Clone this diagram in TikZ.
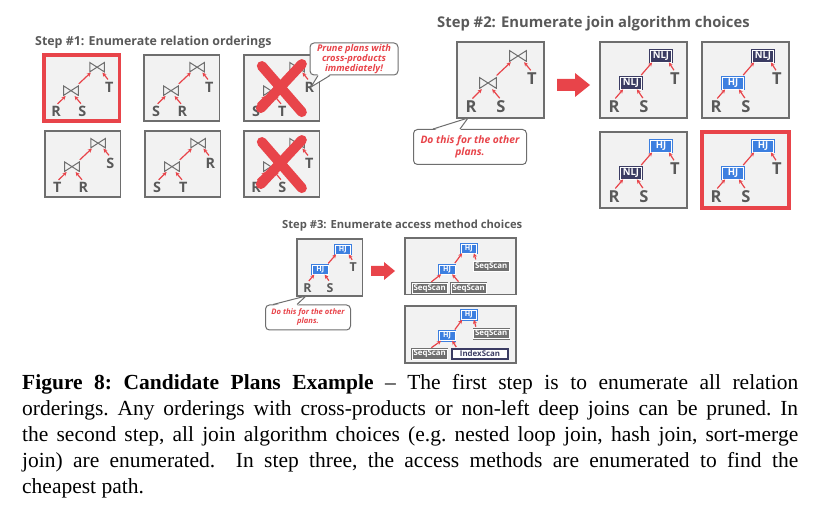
\documentclass[tikz,border=0pt]{standalone}
\usepackage{fontspec}
\setmainfont{Liberation Serif}
\newfontfamily\slidefont{Open Sans}
\usepackage{xcolor}
\usepackage{tikz}
\usetikzlibrary{arrows.meta,positioning}

\definecolor{slidered}{HTML}{E8444A}
\definecolor{slidegray}{HTML}{595959}
\definecolor{boxgray}{HTML}{F2F2F2}
\definecolor{edgegray}{HTML}{6E6E6E}
\definecolor{nljblue}{HTML}{3B3C63}
\definecolor{hjblue}{HTML}{3C7FE0}
\definecolor{scangray}{HTML}{707070}

\tikzset{
  planbox/.style={draw=edgegray, line width=1.3pt, fill=boxgray, minimum width=87pt, minimum height=76pt, inner sep=0pt},
  bestbox/.style={planbox, draw=slidered, line width=3.5pt},
  leaf/.style={font=\slidefont\bfseries\fontsize{16.5}{16.5}\selectfont, text=slidegray, inner sep=1pt},
  opbox/.style={inner sep=1pt, minimum height=12pt, minimum width=21pt, font=\slidefont\bfseries\fontsize{9.5}{9.5}\selectfont, text=white, double=white, double distance=0.5pt, line width=0.8pt},
  nlj/.style={opbox, draw=nljblue, fill=nljblue},
  hj/.style={opbox, draw=hjblue, fill=hjblue},
  bowtie/.style={minimum width=18pt, minimum height=12pt, inner sep=0pt,
    path picture={\draw[edgegray, line width=1pt]
      ([shift={(0.6pt,-0.6pt)}]path picture bounding box.north west) --
      ([shift={(-0.6pt,0.6pt)}]path picture bounding box.south east) --
      ([shift={(-0.6pt,-0.6pt)}]path picture bounding box.north east) --
      ([shift={(0.6pt,0.6pt)}]path picture bounding box.south west) -- cycle;}},
  scan/.style={inner sep=0.5pt, minimum height=13pt, minimum width=47pt, font=\slidefont\bfseries\fontsize{10.5}{10.5}\selectfont, text=white, draw=scangray, fill=scangray, double=white, double distance=0.5pt, line width=0.7pt},
  idxscan/.style={inner sep=0.5pt, minimum height=13pt, minimum width=75pt, font=\slidefont\bfseries\fontsize{10.5}{10.5}\selectfont, text=nljblue, draw=nljblue, fill=white, line width=1.4pt},
  flow/.style={draw=slidered, line width=1.2pt, shorten <=2pt, -{Stealth[length=4pt,width=4pt]}},
  prunex/.style={draw=slidered, line width=10pt, line cap=round},
  bubble/.style={draw=edgegray, line width=1pt, fill=white, rounded corners=4pt, inner sep=1pt, align=center, text=slidered, font=\slidefont\bfseries\itshape},
  steptitle/.style={anchor=west, inner sep=0pt, text=slidegray, font=\slidefont\bfseries}
}

\newcommand{\optextbowtie}{}
\newcommand{\optextnlj}{NLJ}
\newcommand{\optexthj}{HJ}
\newcommand{\plan}[9]{%
  \begin{scope}[shift={#2}, scale=#3, every node/.append style={transform shape}]
    \node[#9] (#1) at (43.5,-38) {};
    \node[#4] (#1-top) at (61,-14) {\csname optext#4\endcsname};
    \node[#5] (#1-low) at (31,-41) {\csname optext#5\endcsname};
    \node[leaf] (#1-l) at (14,-65) {#6};
    \node[leaf] (#1-r) at (44,-65) {#7};
    \node[leaf] (#1-o) at (75,-37) {#8};
    \draw[flow] ([xshift=-2pt]#1-low.north east) -- ([xshift=2pt]#1-top.south west);
    \draw[flow] (#1-l.north) -- ([xshift=3pt]#1-low.south west);
    \draw[flow] (#1-r.north) -- ([xshift=-5pt]#1-low.south east);
    \draw[flow] (#1-o.north) -- ([xshift=-3pt]#1-top.south east);
  \end{scope}}

\begin{document}
\begin{tikzpicture}[x=1pt, y=1pt]
  \useasboundingbox (0,0) rectangle (832,-518);

  % step 1
  \node[steptitle, font=\slidefont\bfseries\fontsize{12.4}{12.4}\selectfont] (t1) at (35,-42) {Step \#1: Enumerate relation orderings};
  \plan{b1}{(44,-55)}{0.87}{bowtie}{bowtie}{R}{S}{T}{bestbox}
  \plan{b2}{(144,-55)}{0.87}{bowtie}{bowtie}{S}{R}{T}{planbox}
  \plan{b3}{(244,-55)}{0.87}{bowtie}{bowtie}{S}{T}{R}{planbox}
  \plan{b4}{(45,-131)}{0.87}{bowtie}{bowtie}{T}{R}{S}{planbox}
  \plan{b5}{(145,-131)}{0.87}{bowtie}{bowtie}{S}{T}{R}{planbox}
  \plan{b6}{(244,-131)}{0.87}{bowtie}{bowtie}{R}{S}{T}{planbox}
  \draw[prunex] ([shift={(-20pt,22pt)}]b3.center) -- ([shift={(20pt,-24pt)}]b3.center);
  \draw[prunex] ([shift={(20pt,24pt)}]b3.center) -- ([shift={(-21pt,-20pt)}]b3.center);
  \draw[prunex] ([shift={(-20pt,22pt)}]b6.center) -- ([shift={(20pt,-24pt)}]b6.center);
  \draw[prunex] ([shift={(20pt,24pt)}]b6.center) -- ([shift={(-21pt,-20pt)}]b6.center);

  \node[bubble, minimum width=88pt, minimum height=32pt, font=\slidefont\bfseries\itshape\fontsize{9.3}{10}\selectfont] (prune) at (354,-59) {Prune plans with\\cross-products\\immediately!};
  \coordinate (prunetip) at (311,-87);
  \fill[white] ([shift={(-36pt,1.5pt)}]prune.south) -- (prunetip) -- ([shift={(-24pt,1.5pt)}]prune.south) -- cycle;
  \draw[edgegray, line width=1pt] ([xshift=-36pt]prune.south) -- (prunetip) -- ([xshift=-24pt]prune.south);

  % step 2
  \node[steptitle, font=\slidefont\bfseries\fontsize{14.8}{14.8}\selectfont] (t2) at (437,-24) {Step \#2: Enumerate join algorithm choices};
  \plan{s2}{(457,-42)}{1}{bowtie}{bowtie}{R}{S}{T}{planbox}
  \node[bubble, minimum width=113pt, minimum height=35pt, font=\slidefont\bfseries\itshape\fontsize{10.3}{12}\selectfont] (do2) at (470,-147) {Do this for the other\\plans.};
  \coordinate (do2tip) at (468,-118);
  \fill[white] ([shift={(-37pt,-1.5pt)}]do2.north) -- (do2tip) -- ([shift={(-10pt,-1.5pt)}]do2.north) -- cycle;
  \draw[edgegray, line width=1pt] ([xshift=-37pt]do2.north) -- (do2tip) -- ([xshift=-10pt]do2.north);
  \fill[slidered] (557,-79) -- (575,-79) -- (575,-73) -- (590,-85) -- (575,-97) -- (575,-91) -- (557,-91) -- cycle;
  \plan{a2}{(600,-42)}{1}{nlj}{nlj}{R}{S}{T}{planbox}
  \plan{b2}{(702,-42)}{1}{nlj}{hj}{R}{S}{T}{planbox}
  \plan{c2}{(600,-132)}{1}{hj}{nlj}{R}{S}{T}{planbox}
  \plan{d2}{(702,-132)}{1}{hj}{hj}{R}{S}{T}{bestbox}

  % step 3
  \node[steptitle, font=\slidefont\bfseries\fontsize{11.2}{11.2}\selectfont] (t3) at (282,-226) {Step \#3: Enumerate access method choices};
  \plan{s3}{(297,-239)}{0.75}{hj}{hj}{R}{S}{T}{planbox}
  \node[bubble, minimum width=85pt, minimum height=25pt, font=\slidefont\bfseries\itshape\fontsize{7.6}{9}\selectfont] (do3) at (308,-317.5) {Do this for the other\\plans.};
  \coordinate (do3tip) at (306,-296);
  \fill[white] ([shift={(-35pt,-1.5pt)}]do3.north) -- (do3tip) -- ([shift={(-11pt,-1.5pt)}]do3.north) -- cycle;
  \draw[edgegray, line width=1pt] ([xshift=-35pt]do3.north) -- (do3tip) -- ([xshift=-11pt]do3.north);
  \fill[slidered] (371,-266) -- (384,-266) -- (384,-262) -- (395,-271) -- (384,-280) -- (384,-276) -- (371,-276) -- cycle;

  \begin{scope}[shift={(405,-238)}, scale=0.75, every node/.append style={transform shape}]
    \node[planbox, minimum width=148pt, minimum height=75pt] (e3) at (74,-37.5) {};
    \node[hj] (e3-top) at (85,-14) {HJ};
    \node[hj] (e3-low) at (56,-42) {HJ};
    \node[scan] (e3-o) at (115,-38) {SeqScan};
    \node[scan] (e3-l) at (33,-67) {SeqScan};
    \node[scan] (e3-r) at (85,-67) {SeqScan};
    \draw[flow] ([xshift=-2pt]e3-low.north east) -- ([xshift=2pt]e3-top.south west);
    \draw[flow] (e3-l.north) -- ([xshift=3pt]e3-low.south west);
    \draw[flow] ([xshift=-12pt]e3-r.north) -- ([xshift=-4pt]e3-low.south east);
    \draw[flow] ([xshift=4pt]e3-o.north west) -- ([xshift=-4pt]e3-top.south east);
  \end{scope}
  \begin{scope}[shift={(405,-306)}, scale=0.75, every node/.append style={transform shape}]
    \node[planbox, minimum width=148pt, minimum height=76pt] (f3) at (74,-38) {};
    \node[hj] (f3-top) at (85,-12) {HJ};
    \node[hj] (f3-low) at (56,-40) {HJ};
    \node[scan] (f3-o) at (115,-37) {SeqScan};
    \node[scan] (f3-l) at (33,-64) {SeqScan};
    \node[idxscan] (f3-r) at (100,-64) {IndexScan};
    \draw[flow] ([xshift=-2pt]f3-low.north east) -- ([xshift=2pt]f3-top.south west);
    \draw[flow] (f3-l.north) -- ([xshift=3pt]f3-low.south west);
    \draw[flow] ([xshift=8pt]f3-r.north west) -- ([xshift=-4pt]f3-low.south east);
    \draw[flow] ([xshift=4pt]f3-o.north west) -- ([xshift=-4pt]f3-top.south east);
  \end{scope}

  % caption
  \node[anchor=north west, inner sep=0pt, text width=776pt, align=justify, font=\fontsize{21.5}{26}\selectfont] (cap) at (22,-374)
    {\frenchspacing\textbf{Figure 8: Candidate Plans Example} \textendash{} The first step is to enumerate all relation\linebreak
     orderings. Any orderings with cross-products or non-left deep joins can be pruned. In\linebreak
     the second step, all join algorithm choices (e.g. nested loop join, hash join, sort-merge\linebreak
     join) are enumerated.\ \ In step three, the access methods are enumerated to find the\linebreak
     cheapest path.};
\end{tikzpicture}
\end{document}
